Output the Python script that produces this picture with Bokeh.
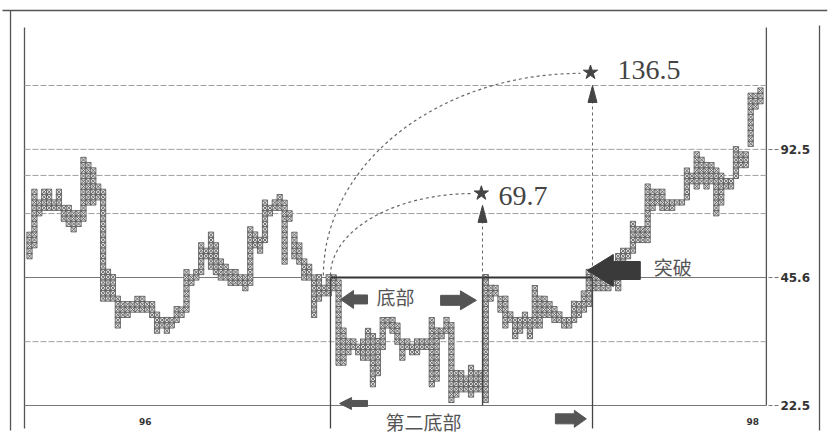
import math
from bokeh.plotting import figure
from bokeh.models import Range1d, LogAxis, LinearAxis, FixedTicker
from bokeh.core.properties import value
from bokeh.embed import file_html
from bokeh.resources import INLINE

# ---------------- data ----------------
# point & figure columns: lowest and highest box price of each column
col_low = [51.3, 54.5, 65.0, 67.0, 67.0, 67.0, 67.0, 63.1, 61.3, 59.5,
           61.3, 63.1, 69.0, 69.0, 71.0, 40.6, 40.6, 40.6, 35.0, 37.1,
           37.1, 38.2, 38.2, 38.2, 38.2, 37.1, 34.0, 35.0, 34.0, 35.0,
           36.1, 37.1, 38.2, 44.3, 45.6, 47.0, 51.3, 48.4, 47.0, 45.6,
           45.6, 44.3, 44.3, 44.3, 43.0, 44.3, 54.5, 52.9, 56.1, 65.0,
           67.0, 67.0, 49.8, 63.1, 51.3, 49.8, 45.6, 45.6, 37.1, 40.6,
           41.8, 41.8, 43.0, 28.5, 28.5, 30.2, 31.1, 30.2, 29.3, 29.3,
           25.3, 26.9, 31.1, 35.0, 34.0, 32.0, 29.3, 31.1, 30.2, 30.2,
           31.1, 31.1, 25.3, 26.1, 33.0, 34.0, 23.2, 23.9, 24.6, 24.6,
           23.9, 24.6, 24.6, 23.2, 40.6, 41.8, 38.2, 35.0, 36.1, 33.0,
           34.0, 35.0, 33.0, 35.0, 35.0, 37.1, 37.1, 36.1, 36.1, 35.0,
           35.0, 36.1, 37.1, 38.2, 39.4, 43.0, 43.0, 43.0, 43.0, 44.3,
           43.0, 49.8, 51.3, 52.9, 56.1, 56.1, 56.1, 67.0, 69.0, 67.0,
           67.0, 67.0, 69.0, 69.0, 71.0, 77.6, 75.4, 77.6, 75.4, 77.6,
           65.0, 69.0, 75.4, 75.4, 79.9, 84.8, 84.8, 95.4, 117.2, 120.7]
col_high = [57.8, 73.2, 69.0, 73.2, 73.2, 69.0, 73.2, 67.0, 67.0, 65.0,
            65.0, 87.3, 84.8, 82.3, 75.4, 73.2, 47.0, 45.6, 40.6, 39.4,
            39.4, 39.4, 40.6, 40.6, 39.4, 39.4, 37.1, 36.1, 36.1, 36.1,
            38.2, 38.2, 47.0, 45.6, 47.0, 54.5, 52.9, 57.8, 54.5, 49.8,
            48.4, 47.0, 47.0, 45.6, 45.6, 59.5, 57.8, 56.1, 69.0, 67.0,
            69.0, 71.0, 69.0, 65.0, 57.8, 54.5, 49.8, 48.4, 45.6, 45.6,
            43.0, 45.6, 45.6, 44.3, 34.0, 32.0, 32.0, 31.1, 32.0, 34.0,
            33.0, 32.0, 36.1, 36.1, 36.1, 35.0, 32.0, 32.0, 31.1, 32.0,
            32.0, 32.0, 36.1, 34.0, 34.0, 36.1, 35.0, 26.9, 26.9, 26.1,
            27.7, 26.9, 26.9, 45.6, 43.0, 43.0, 40.6, 40.6, 37.1, 36.1,
            36.1, 37.1, 36.1, 43.0, 40.6, 40.6, 39.4, 38.2, 37.1, 36.1,
            36.1, 39.4, 39.4, 41.8, 47.0, 45.6, 45.6, 44.3, 47.0, 48.4,
            51.3, 52.9, 52.9, 61.3, 59.5, 59.5, 75.4, 73.2, 73.2, 73.2,
            69.0, 69.0, 69.0, 69.0, 82.3, 79.9, 89.9, 87.3, 84.8, 84.8,
            82.3, 79.9, 77.6, 77.6, 92.6, 89.9, 89.9, 124.3, 124.3, 128.0]

grid_levels = [131.6, 92.5, 80.1, 64.9, 45.6, 32.0, 22.5]
y_ticks = [22.5, 45.6, 92.5]
y_tick_labels = ["22.5", "45.6", "92.5"]
x_ticks = [23.6, 147.4]
x_tick_labels = ["96", "98"]

target_labels = ["69.7", "136.5"]
target_x = [92.1, 114.35]          # star position (column)
target_y = [72.6, 141.4]           # star position (price as drawn)

# ---------------- figure ----------------
W, H = 830, 438
X0, X1 = -5.911, 163.27
Y0, Y1 = 18.75, 210.4
p = figure(width=W, height=H, x_range=Range1d(X0, X1), y_range=Range1d(Y0, Y1),
           y_axis_type="log", x_axis_location=None, y_axis_location=None,
           toolbar_location=None, output_backend="svg", min_border=0,
           outline_line_color=None, background_fill_color="white",
           border_fill_color="white")
for g in p.grid:
    g.visible = False

XPX = W / (X1 - X0)
LPX = H / math.log(Y1 / Y0)


def sx(x, px):
    return x + px / XPX


def sy(y, px_up):
    return y * math.exp(px_up / LPX)


INK = "#5c5c5c"
GRID = "#a0a0a0"

# frame lines
L_IN, R_IN = -1.02, 150.2
L_OUT, R_OUT = -3.87, 161.03
TOP_OUT, TOP_IN, BOT = 199.1, 181.3, 19.6
p.segment(x0=[-5.5, L_OUT, R_OUT, L_IN, R_IN],
          y0=[TOP_OUT, TOP_OUT, 183.3, TOP_IN, TOP_IN],
          x1=[162.6, L_OUT, R_OUT, L_IN, R_IN],
          y1=[TOP_OUT, BOT, BOT, 19.82, 22.5],
          line_color="#555", line_width=1.3)

# grid lines
soft = [g for g in grid_levels if g not in (45.6, 22.5)]
p.segment(x0=[L_IN] * len(soft), x1=[R_IN] * len(soft), y0=soft, y1=soft,
          line_color=GRID, line_width=1, line_dash="6 2")
p.segment(x0=[L_IN, L_IN], x1=[R_IN, R_IN], y0=[45.6, 22.5], y1=[45.6, 22.5],
          line_color="#777", line_width=1.1)

# P&F X marks
box = (92.5 / 45.6) ** (1 / 24)
xs, ys = [], []
for i, (lo, hi) in enumerate(zip(col_low, col_high)):
    n = int(round(math.log(hi / lo) / math.log(box)))
    for j in range(n + 1):
        xs.append(i)
        ys.append(lo * box ** j)
p.scatter(xs, ys, marker="square_x", size=5.2, line_color=INK, line_width=0.9,
          fill_color="#e4e4e4")

# base boxes
BX_L, BX_M, BX_R = 61.35, 92.34, 114.76
p.segment(x0=[BX_L], x1=[BX_R], y0=[45.6], y1=[45.6], line_color="#333", line_width=2)
p.segment(x0=[BX_L, BX_M, BX_R], x1=[BX_L, BX_M, BX_R],
          y0=[45.6, 45.6, 45.6], y1=[19.82, 22.5, 19.82],
          line_color="#444", line_width=1.3)

# dashed projection lines with arrow heads
tips = [67.9, 131.6]
for xv, tip in zip([BX_M, BX_R], tips):
    base = sy(tip, -17)
    p.line([xv, xv], [45.6, base], line_color="#666", line_width=1, line_dash="3 3")
    p.patch([sx(xv, -4.5), xv, sx(xv, 4.5)], [base, tip, base],
            fill_color="#444", line_color="#444")

# curved projections
def arc(xs0, ys0, xe, ye, n=40):
    ax, ay = [], []
    for k in range(n + 1):
        t = (math.pi / 2) * k / n
        ax.append(xe - (xe - xs0) * math.cos(t))
        ay.append(math.exp(math.log(ys0) + (math.log(ye) - math.log(ys0)) * math.sin(t)))
    return ax, ay

a1 = arc(59.9, 46.1, 112.3, 140.7)
a2 = arc(61.35, 46.1, 90.5, 72.5)
p.line(a1[0], a1[1], line_color="#666", line_width=1.2, line_dash="3 3")
p.line(a2[0], a2[1], line_color="#666", line_width=1.2, line_dash="3 3")

# target stars and labels
p.scatter(target_x, target_y, marker="star", size=15, fill_color="#444", line_color="#444")
p.text(x=[95.6, 119.85], y=[71.7, 143.0], text=target_labels,
       text_font=value("Liberation Serif"), text_font_size="28px",
       text_color="#444", text_baseline="middle", text_align="left")

# block arrows
def block_arrow(xt0, xt1, y, shaft, head, hlen, color):
    d = 1 if xt1 > xt0 else -1
    hb = sx(xt1, -d * hlen)
    px_ = [xt0, hb, hb, xt1, hb, hb, xt0]
    py_ = [sy(y, shaft / 2), sy(y, shaft / 2), sy(y, head / 2), y,
           sy(y, -head / 2), sy(y, -shaft / 2), sy(y, -shaft / 2)]
    p.patch(px_, py_, fill_color=color, line_color=color)

block_arrow(68.9, 63.4, 40.4, 9, 18, 13, "#555")
block_arrow(83.8, 91.1, 40.2, 10, 19, 16, "#555")
block_arrow(68.9, 63.2, 22.75, 6, 12, 12, "#555")
block_arrow(107.2, 113.5, 20.9, 10, 17, 12, "#555")
block_arrow(124.5, 113.7, 47.4, 18, 32, 26, "#3a3a3a")

# Chinese labels
p.text(x=[74.6, 80.3, 131.1], y=[41.1, 20.6, 48.5], text=["底部", "第二底部", "突破"],
       text_font=value("Noto Sans CJK SC"), text_font_size="19px",
       text_color="#555", text_align="center", text_baseline="middle")

# axes (drawn inside the frame)
yax = LogAxis(ticker=FixedTicker(ticks=y_ticks), fixed_location=R_IN)
yax.major_label_overrides = dict(zip(y_ticks, y_tick_labels))
yax.axis_line_color = None
yax.major_tick_in = 0
yax.major_tick_out = 12
yax.major_tick_line_color = "#777"
yax.major_tick_line_dash = "4 2"
yax.minor_tick_line_color = None
yax.major_label_standoff = 2
yax.major_label_text_font = "DejaVu Sans"
yax.major_label_text_font_style = "bold"
yax.major_label_text_font_size = "12px"
yax.major_label_text_color = "#333"
p.add_layout(yax, "right")

xax = LinearAxis(ticker=FixedTicker(ticks=x_ticks), fixed_location=22.5)
xax.major_label_overrides = dict(zip(x_ticks, x_tick_labels))
xax.axis_line_color = None
xax.major_tick_line_color = None
xax.minor_tick_line_color = None
xax.major_tick_in = 0
xax.major_tick_out = 0
xax.major_label_standoff = 13
xax.major_label_text_font = "DejaVu Sans"
xax.major_label_text_font_style = "bold"
xax.major_label_text_font_size = "9px"
xax.major_label_text_color = "#333"
p.add_layout(xax, "below")

open("out.html", "w").write(file_html(p, INLINE))
